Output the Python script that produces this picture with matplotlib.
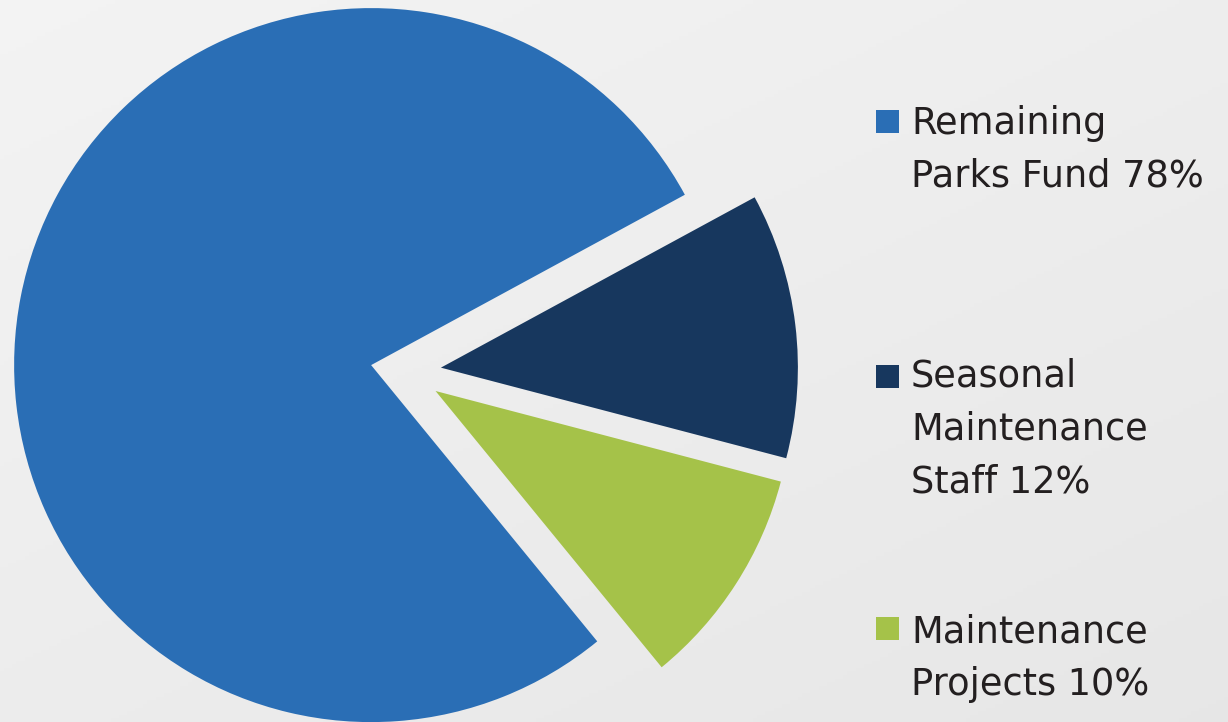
import numpy as np
import matplotlib
matplotlib.use("Agg")
import matplotlib.pyplot as plt
from matplotlib.patches import Rectangle

# Data
labels = ["Remaining\nParks Fund 78%", "Seasonal\nMaintenance\nStaff 12%", "Maintenance\nProjects 10%"]
values = [78, 12, 10]
colors = ["#2A6EB5", "#17375E", "#A5C249"]

W, H = 1228, 722
fig = plt.figure(figsize=(W / 100, H / 100), dpi=100)

# light gray background (gradient)
bg = fig.add_axes([0, 0, 1, 1])
yy, xx = np.mgrid[0:1:200j, 0:1:300j]
grad = 0.955 - 0.05 * (0.45 * xx + 0.55 * yy)
bg.imshow(np.dstack([grad, grad, grad]), extent=[0, 1, 0, 1], aspect="auto", origin="upper")
bg.set_axis_off()

ax = fig.add_axes([0, 0, 1, 1])
ax.set_axis_off()
R = 357.0  # pixels per data unit
cx, cy = 405.8, 722 - 371.9
ax.pie(values, colors=colors, radius=1.0, explode=[0.099] * 3,
       startangle=309.3, counterclock=False,
       wedgeprops=dict(linewidth=0))
ax.set_xlim(-cx / R, (W - cx) / R)
ax.set_ylim(-cy / R, (H - cy) / R)
ax.set_aspect("equal")

# legend drawn to the right
square_tops = [110, 365, 617]
text_baselines = [134, 386.7, 642.7]
line_step = 52.7
for lab, col, st, tb in zip(labels, colors, square_tops, text_baselines):
    fig.patches.append(Rectangle((876 / W, 1 - (st + 23) / H), 23 / W, 23 / H,
                                 transform=fig.transFigure, facecolor=col,
                                 edgecolor="none"))
    for i, line in enumerate(lab.split("\n")):
        fig.text(911 / W, 1 - (tb + i * line_step) / H, line, fontsize=26.5,
                 color="#231F20", family="DejaVu Sans", va="baseline", ha="left")

fig.savefig("out.png", dpi=100)
